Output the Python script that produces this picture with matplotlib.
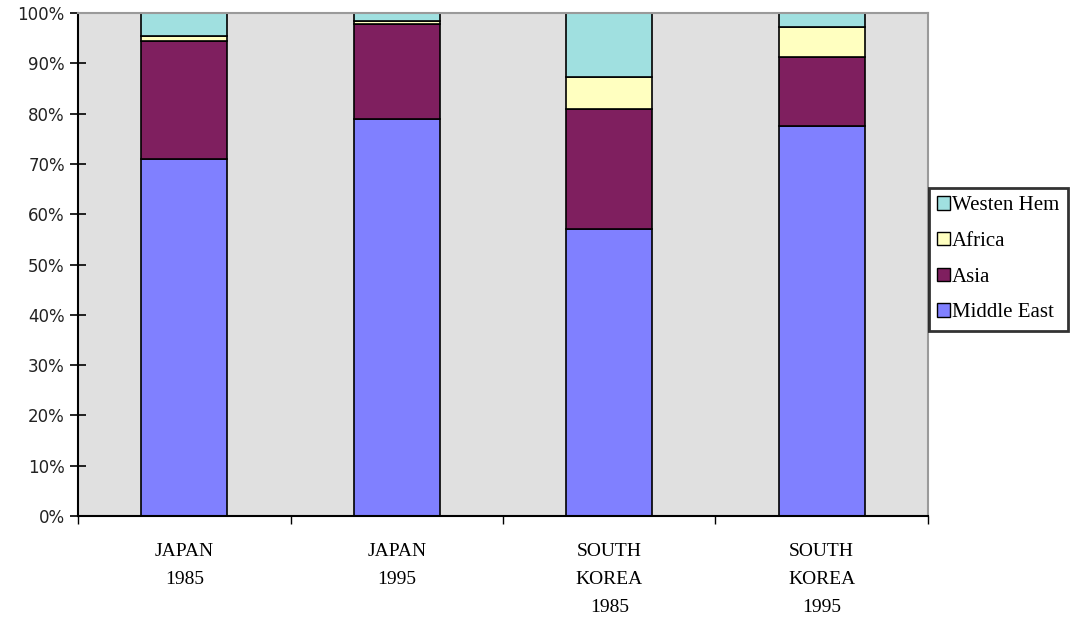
import numpy as np
import matplotlib.pyplot as plt
from matplotlib.patches import Patch

# Quote percentuali per origine
groups = ['JAPAN\n1985', 'JAPAN\n1995', 'SOUTH\nKOREA\n1985', 'SOUTH\nKOREA\n1995']
middle_east = [71.0, 78.9, 57.0, 77.6]
asia = [23.4, 19.0, 23.9, 13.6]
africa = [1.1, 0.5, 6.4, 6.0]
westen_hem = [4.5, 1.6, 12.7, 2.8]

series = [('Middle East', middle_east, '#8080ff'),
          ('Asia', asia, '#7f1f5f'),
          ('Africa', africa, '#ffffc0'),
          ('Westen Hem', westen_hem, '#a0e0e0')]

fig = plt.figure(figsize=(10.73, 6.21), dpi=100)
ax = fig.add_axes([78 / 1073, 105 / 621, 850 / 1073, 503 / 621])
ax.set_facecolor('#e0e0e0')

x = np.arange(len(groups))
bottom = np.zeros(len(groups))
for name, vals, col in series:
    vals = np.array(vals)
    ax.bar(x, vals, width=0.405, bottom=bottom, color=col,
           edgecolor='black', linewidth=1.2, label=name)
    bottom += vals

ax.set_xlim(-0.5, 3.5)
ax.set_ylim(0, 100)

# Assi
ax.set_yticks(np.arange(0, 101, 10))
ax.set_yticklabels([f'{v}%' for v in range(0, 101, 10)],
                   family='DejaVu Sans', fontsize=12, color='#222222')
ax.tick_params(axis='y', direction='inout', length=11, width=1.2, pad=4)

ax.set_xticks(np.arange(-0.5, 3.6, 1))
ax.set_xticklabels([])
ax.tick_params(axis='x', direction='out', length=6, width=1.0)
for i, g in enumerate(groups):
    ax.text(i, -5.4, g, ha='center', va='top', family='Liberation Serif',
            fontsize=14, linespacing=1.85, transform=ax.transData)

for s in ['left', 'bottom']:
    ax.spines[s].set_linewidth(1.5)
    ax.spines[s].set_color('black')
for s in ['top', 'right']:
    ax.spines[s].set_linewidth(1.5)
    ax.spines[s].set_color('#9a9a9a')

# Legenda
handles = [Patch(facecolor=c, edgecolor='black', label=n) for n, _, c in reversed(series)]
leg = fig.legend(handles=handles, loc='upper left', bbox_to_anchor=(929 / 1073, 1 - 188 / 621),
                 prop={'family': 'Liberation Serif', 'size': 15}, frameon=True,
                 fancybox=False, edgecolor='black', handlelength=0.6, handleheight=0.6,
                 handletextpad=0.1, labelspacing=0.8, borderpad=0.4, borderaxespad=0)
leg.get_frame().set_linewidth(2.0)

fig.savefig('out.png', dpi=100)
